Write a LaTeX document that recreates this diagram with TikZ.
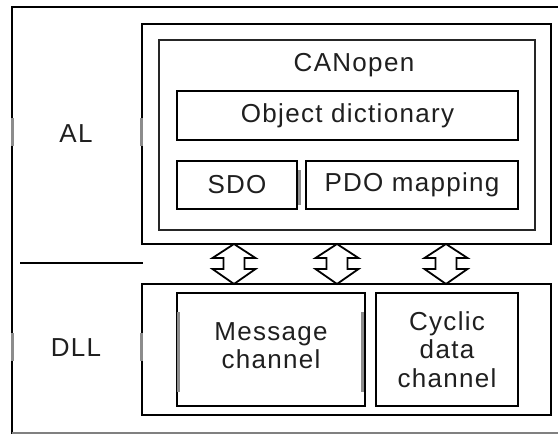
\documentclass[tikz,border=0pt]{standalone}
\usepackage{fontspec}
\setmainfont{Liberation Sans}[LetterSpace=5]
\begin{document}
\begin{tikzpicture}[x=1pt,y=-1pt,
  box/.style={draw=black, line width=1.8pt, inner sep=0pt},
  thinbox/.style={draw=black!85, line width=1.5pt, inner sep=0pt},
  lbl/.style={text=black!88, font=\fontsize{26}{28.5}\selectfont, align=center, inner sep=0pt},
  marker/.style={fill=black!45, draw=none},
  blockarrow/.style={draw=black, line width=1.8pt, fill=white, line join=miter}]
\useasboundingbox (0,0) rectangle (558,434);

% outer frame
\draw[line width=2pt] (12,434) -- (12,7) -- (558,7);
\draw[black!50, line width=1.5pt] (12,433) -- (558,433);

% layer separator
\draw[line width=1.4pt] (20,263) -- (143,263);

% layer labels
\node[lbl] (al) at (76,134) {AL};
\node[lbl] (dll) at (76,348) {DLL};

% application layer
\node[box, minimum width=409, minimum height=220] (alb) at (346.5,134) {};
\node[thinbox, minimum width=376, minimum height=190] (canopen) at (347,135) {};
\node[lbl] (cantxt) at (354,65) {CANopen};
\node[box, minimum width=341, minimum height=49, lbl] (od) at (347.5,115.5) {Object dictionary};
\node[box, minimum width=120, minimum height=48, lbl] (sdo) at (237,185) {SDO};
\node[box, minimum width=212, minimum height=48, lbl] (pdo) at (412,185) {PDO mapping};

% data link layer
\node[box, minimum width=409, minimum height=131] (dllb) at (346.5,349.5) {};
\node[box, minimum width=188, minimum height=113] (msg) at (271,349.5) {};
\node[lbl] (msgtxt) at (271,345.5) {Message\\channel};
\node[box, minimum width=142, minimum height=113, lbl] (cyc) at (447,349.5) {Cyclic\\data\\channel};

% gray edge markers
\fill[marker] (10.5,118) rectangle (13.5,146);
\fill[marker] (139.5,118) rectangle (142.5,146);
\fill[marker] (10.5,333) rectangle (13.5,361);
\fill[marker] (139.5,333) rectangle (142.5,361);
\fill[marker] (297.5,170) rectangle (301,205);
\fill[marker] (177,312) rectangle (180,392);
\fill[marker] (361,312) rectangle (364,392);

% double block arrows between the layers
\foreach \i/\x in {1/234, 2/337, 3/446} {
  \coordinate (t\i) at (\x,244);
  \coordinate (b\i) at (\x,284);
  \draw[blockarrow] (t\i) -- ++(21.5,14) -- ++(-11,0) -- ++(0,11) -- ++(11,0)
    -- (b\i) -- ++(-21.5,-15) -- ++(11,0) -- ++(0,-11) -- ++(-11,0) -- cycle;
}
\end{tikzpicture}
\end{document}
